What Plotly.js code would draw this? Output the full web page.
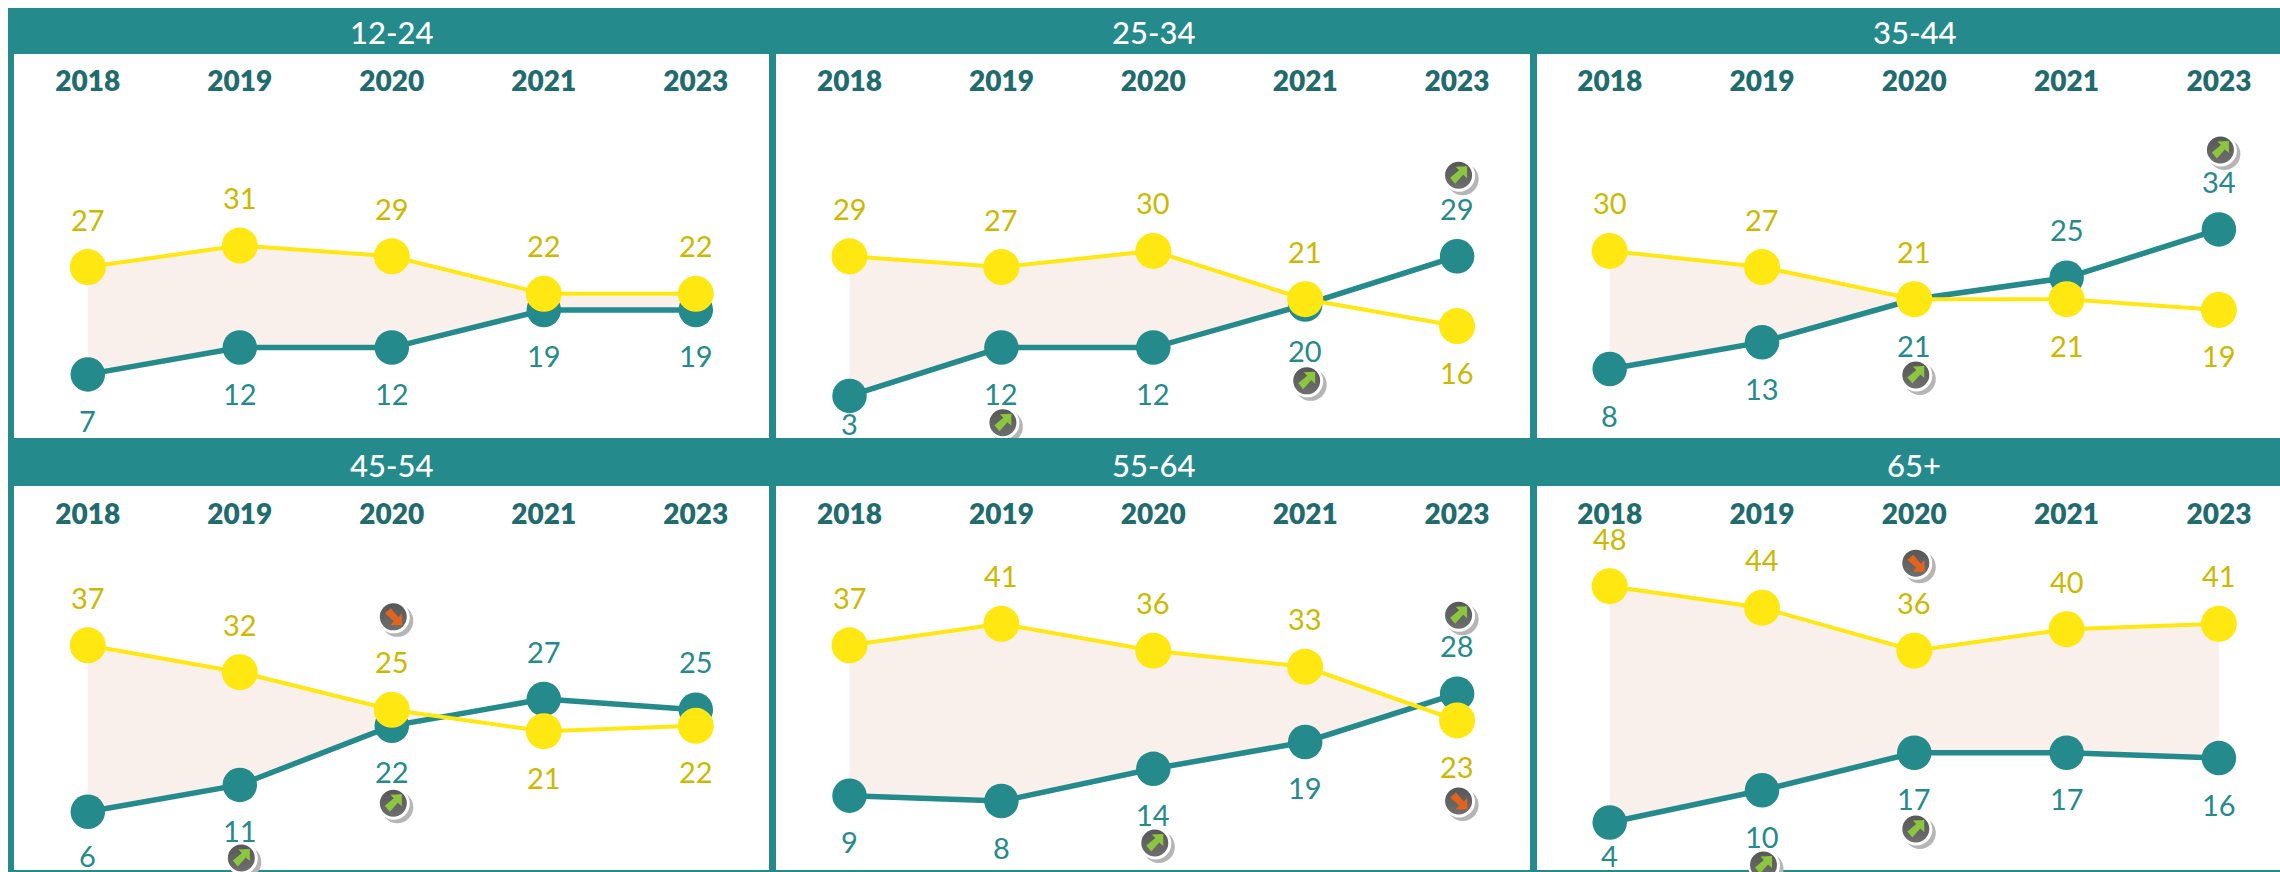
<!DOCTYPE html>
<html>
<head>
<meta charset="utf-8">
<script src="https://cdn.plot.ly/plotly-3.0.0.min.js"></script>
<style>html,body{margin:0;padding:0;background:#fff;overflow:hidden}#chart{width:2280px;height:872px}</style>
</head>
<body>
<div id="chart"></div>
<script>
// ---------- data ----------
const years = ['2018', '2019', '2020', '2021', '2023'];
const ageGroups = ['12-24', '25-34', '35-44', '45-54', '55-64', '65+'];

const yellow1224 = [27, 31, 29, 22, 22];
const teal1224   = [7, 12, 12, 19, 19];
const yellow2534 = [29, 27, 30, 21, 16];
const teal2534   = [3, 12, 12, 20, 29];
const yellow3544 = [30, 27, 21, 21, 19];
const teal3544   = [8, 13, 21, 25, 34];
const yellow4554 = [37, 32, 25, 21, 22];
const teal4554   = [6, 11, 22, 27, 25];
const yellow5564 = [37, 41, 36, 33, 23];
const teal5564   = [9, 8, 14, 19, 28];
const yellow65   = [48, 44, 36, 40, 41];
const teal65     = [4, 10, 17, 17, 16];

const yellowSeries = [yellow1224, yellow2534, yellow3544, yellow4554, yellow5564, yellow65];
const tealSeries   = [teal1224, teal2534, teal3544, teal4554, teal5564, teal65];

// trend badges: panel index, year index, level on the value scale, direction
const badgePanel = [1, 1, 1, 2, 2, 3, 3, 3, 4, 4, 4, 5, 5, 5];
const badgeYear  = [4, 3, 1, 4, 2, 2, 2, 1, 4, 4, 2, 2, 2, 1];
const badgeLevel = [44.1, 5.8, -2.0, 48.8, 6.9, 42.3, 7.6, -2.6, 42.6, 8.0, 0.2, 52.3, 2.8, -3.9];
const badgeDir   = ['up', 'up', 'up', 'up', 'up', 'down', 'up', 'up', 'up', 'down', 'up', 'down', 'up', 'up'];

// ---------- layout constants ----------
const W = 2280, H = 872;
const TEAL = '#248A8C', YELLOW = '#FFE711', YELLOW_TEXT = '#CDB800', YEAR_TEXT = '#1F6B6E', FILL = '#FAF0EB';
const FONT = 'Lato, "Open Sans", sans-serif';
const pxPerUnit = 5.37, pxPerYear = [152, 151.9, 152.3];
const colX0 = [87.8, 849.5, 1609.7];
const colLeft = [14, 776, 1537], colRight = [769, 1530, 2280];
const rowTop = [98, 531], rowBottom = [438, 872], rowZero = [412, 844];
const headerTop = [8, 438], headerBottom = [54, 486], titleY = [32, 465];
const px = v => v / W, py = v => 1 - v / H;

const traces = [], annotations = [], images = [], shapes = [];
const layout = {
  width: W, height: H, margin: {l: 0, r: 0, t: 0, b: 0, pad: 0},
  paper_bgcolor: '#fff', plot_bgcolor: 'rgba(0,0,0,0)', showlegend: false, hovermode: false,
  font: {family: FONT}
};

function rect(x0, y0, x1, y1) {
  shapes.push({type: 'rect', xref: 'paper', yref: 'paper', x0: px(x0), x1: px(x1), y0: py(y0), y1: py(y1),
    fillcolor: TEAL, line: {width: 0}, layer: 'below'});
}
[0, 1].forEach(r => rect(8, headerTop[r], W, headerBottom[r]));
rect(8, 8, 14, H);
rect(769, 8, 776, H);
rect(1530, 8, 1537, H);
rect(8, 870, W, H);

function badgeSvg(dir) {
  const col = dir === 'up' ? '#8CC63F' : '#E0631E';
  const rot = dir === 'up' ? 0 : 90;
  const svg = `<svg xmlns="http://www.w3.org/2000/svg" width="48" height="48" viewBox="0 0 48 48">
<defs><linearGradient id="g" x1="0" y1="0" x2="0" y2="1"><stop offset="0" stop-color="#575757"/><stop offset="1" stop-color="#6e6e6e"/></linearGradient></defs>
<circle cx="28" cy="28" r="16" fill="#b5b5b5"/>
<circle cx="24.5" cy="24.5" r="16" fill="#fff"/>
<circle cx="24" cy="24" r="13.5" fill="url(#g)"/>
<polygon transform="rotate(${rot} 24 24)" fill="${col}" points="32.5,15 21,15.5 24.5,19 15.5,26.5 20.5,32.5 28.5,23.5 32.5,27"/>
</svg>`;
  return 'data:image/svg+xml;charset=utf-8,' + encodeURIComponent(svg);
}

// ---------- part of the fill where yellow lies above teal ----------
function fillPolygon(yel, tea) {
  const xs = [], top = [], bot = [];
  for (let i = 0; i < yel.length; i++) {
    if (yel[i] >= tea[i]) { xs.push(i); top.push(yel[i]); bot.push(tea[i]); }
    if (i < yel.length - 1) {
      const d0 = yel[i] - tea[i], d1 = yel[i + 1] - tea[i + 1];
      if (d0 * d1 < 0) {
        const t = d0 / (d0 - d1), v = yel[i] + t * (yel[i + 1] - yel[i]);
        xs.push(i + t); top.push(v); bot.push(v);
      }
    }
  }
  return {x: xs.concat(xs.slice().reverse()), y: top.concat(bot.slice().reverse())};
}

// ---------- panels ----------
ageGroups.forEach((name, p) => {
  const c = p % 3, r = Math.floor(p / 3), n = p === 0 ? '' : String(p + 1);
  const xa = 'x' + n, ya = 'y' + n;
  const yel = yellowSeries[p], tea = tealSeries[p];
  const xIdx = years.map((_, i) => i);

  layout['xaxis' + n] = {
    domain: [px(colLeft[c]), px(colRight[c])], anchor: ya, side: 'top',
    range: [(colLeft[c] - colX0[c]) / pxPerYear[c], (colRight[c] - colX0[c]) / pxPerYear[c]],
    tickmode: 'array', tickvals: xIdx, ticktext: years, ticks: '', ticklen: 0,
    tickfont: {family: FONT, size: 28, color: YEAR_TEXT, weight: 800},
    showgrid: false, zeroline: false, showline: false, fixedrange: true
  };
  layout['yaxis' + n] = {
    domain: [py(rowBottom[r]), py(rowTop[r])], anchor: xa,
    range: [(rowZero[r] - rowBottom[r]) / pxPerUnit, (rowZero[r] - rowTop[r]) / pxPerUnit],
    showticklabels: false, ticks: '', showgrid: false, zeroline: false, showline: false, fixedrange: true
  };

  const poly = fillPolygon(yel, tea);
  traces.push({type: 'scatter', mode: 'lines', xaxis: xa, yaxis: ya, x: poly.x, y: poly.y,
    fill: 'toself', fillcolor: FILL, line: {width: 0}, hoverinfo: 'skip', name: name + ' gap'});
  traces.push({type: 'scatter', mode: 'lines+markers', xaxis: xa, yaxis: ya, x: xIdx, y: tea, cliponaxis: false,
    line: {color: TEAL, width: 5.5}, marker: {color: TEAL, size: 34.5}, name: name + ' teal'});
  traces.push({type: 'scatter', mode: 'lines+markers', xaxis: xa, yaxis: ya, x: xIdx, y: yel, cliponaxis: false,
    line: {color: YELLOW, width: 4}, marker: {color: YELLOW, size: 36}, name: name + ' yellow'});

  // panel title
  annotations.push({xref: xa, yref: 'paper', x: 2, y: py(titleY[r]), text: name, showarrow: false,
    xanchor: 'center', yanchor: 'middle', font: {family: FONT, size: 31, color: '#fff', weight: 500}});

  // value labels: the higher series above, the lower below
  const SHIFT_UP = 48, SHIFT_DOWN = 46, FLOOR = 11;
  const label = (v, above, color, i) => annotations.push({
    xref: xa, yref: ya, x: i, y: v, text: String(v), showarrow: false, xanchor: 'center', yanchor: 'middle',
    yshift: above ? SHIFT_UP : -Math.min(SHIFT_DOWN, v * pxPerUnit + FLOOR),
    font: {family: FONT, size: 29, color: color}
  });
  xIdx.forEach(i => {
    const yellowOnTop = yel[i] >= tea[i];
    label(yel[i], yellowOnTop, YELLOW_TEXT, i);
    label(tea[i], !yellowOnTop, TEAL, i);
  });

  // badges
  badgePanel.forEach((bp, b) => {
    if (bp !== p) return;
    images.push({source: badgeSvg(badgeDir[b]), xref: xa, yref: ya,
      x: badgeYear[b] + 1.5 / pxPerYear[c], y: badgeLevel[b],
      sizex: 48 / pxPerYear[c], sizey: 48 / pxPerUnit, sizing: 'stretch',
      xanchor: 'center', yanchor: 'middle', layer: 'above'});
  });
});

layout.annotations = annotations;
layout.images = images;
layout.shapes = shapes;

Plotly.newPlot('chart', traces, layout, {staticPlot: true, displayModeBar: false, responsive: false});
</script>
</body>
</html>
